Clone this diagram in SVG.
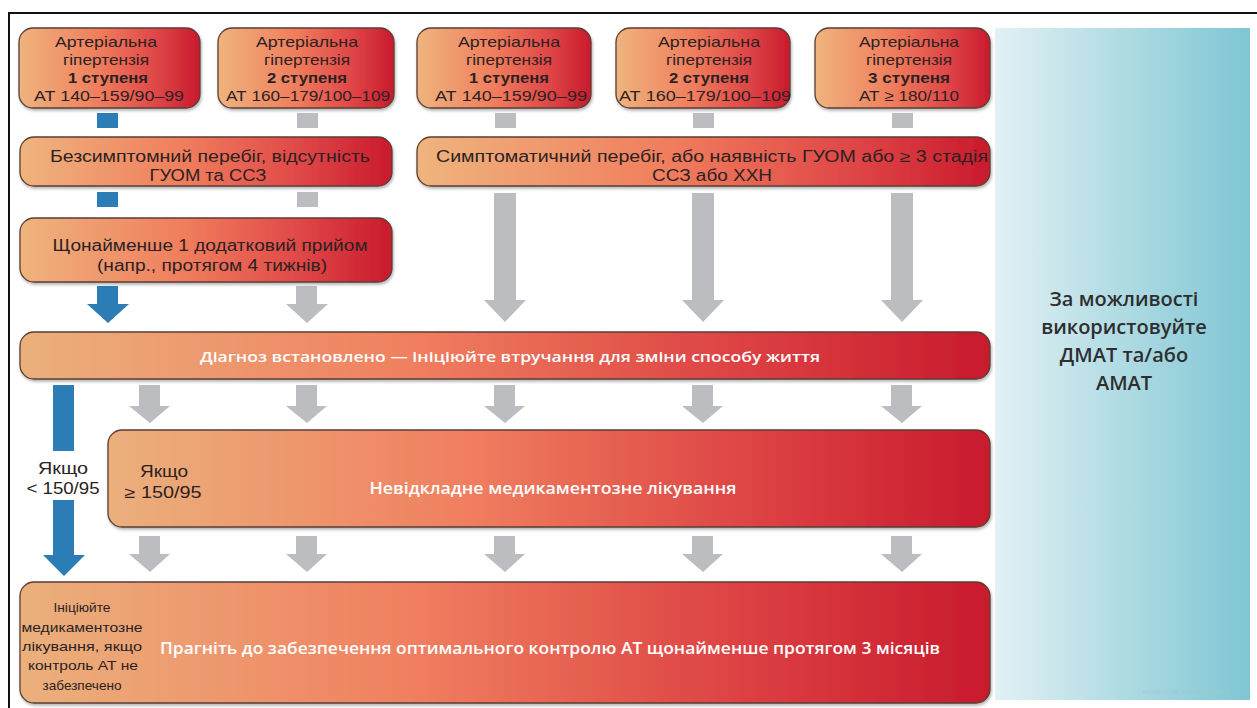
<svg xmlns="http://www.w3.org/2000/svg" width="1257" height="708" viewBox="0 0 1257 708">
<defs>
<linearGradient id="g" x1="0" y1="0" x2="1" y2="0">
<stop offset="0" stop-color="#efb47e"/>
<stop offset="0.45" stop-color="#f07c5c"/>
<stop offset="0.75" stop-color="#e04848"/>
<stop offset="1" stop-color="#c91a2d"/>
</linearGradient>
<linearGradient id="gw" x1="0" y1="0" x2="1" y2="0">
<stop offset="0" stop-color="#ebb07c"/>
<stop offset="0.4" stop-color="#f08060"/>
<stop offset="0.75" stop-color="#dc4042"/>
<stop offset="1" stop-color="#c81a2d"/>
</linearGradient>
<linearGradient id="side" x1="0" y1="0" x2="1" y2="0">
<stop offset="0" stop-color="#e2f1f5"/>
<stop offset="0.5" stop-color="#b0dbe3"/>
<stop offset="1" stop-color="#7fc6d3"/>
</linearGradient>
<filter id="sh" x="-5%" y="-10%" width="110%" height="130%">
<feDropShadow dx="1" dy="2" stdDeviation="1.5" flood-color="#000" flood-opacity="0.3"/>
</filter>
</defs>
<style>
.box{stroke:#5a3e34;stroke-width:1.3;filter:url(#sh)}
.t{font-family:"Liberation Sans",Arial,sans-serif;fill:#2a2222;text-anchor:middle}
.w{font-family:"Open Sans","Liberation Sans",sans-serif;fill:#fff;font-weight:600;text-anchor:middle}
.ga{fill:#bcbdc0}
.ba{fill:#2c7cb6}
</style>
<rect x="0" y="0" width="1257" height="708" fill="#fff"/>
<line x1="9" y1="13" x2="1257" y2="13" stroke="#111" stroke-width="2"/>
<line x1="9" y1="12" x2="9" y2="708" stroke="#111" stroke-width="2"/>

<g id="side-panel">
<rect x="995" y="28" width="255" height="672" fill="url(#side)"/>
<g font-family="'Open Sans','Liberation Sans',sans-serif" font-size="20" fill="#2e2e2e" text-anchor="middle" font-weight="600">
<text x="1124" y="306">За можливості</text>
<text x="1124" y="334">використовуйте</text>
<text x="1124" y="362">ДМАТ та/або</text>
<text x="1124" y="390">АМАТ</text>
</g>
<text x="1185" y="694" font-family="'Liberation Sans',sans-serif" font-size="6" fill="#9fc9d2" text-anchor="middle">JOURNAL OF HYPERTENSION</text>
</g>

<g id="connectors">
<rect class="ba" x="97" y="113" width="21" height="15"/>
<rect class="ga" x="297" y="113" width="21" height="15"/>
<rect class="ga" x="495" y="113" width="21" height="15"/>
<rect class="ga" x="693" y="113" width="21" height="15"/>
<rect class="ga" x="892" y="113" width="21" height="15"/>
<rect class="ba" x="97" y="192" width="21" height="15"/>
<rect class="ga" x="297" y="192" width="21" height="15"/>
<path class="ba" d="M97 286h21v18h11l-21 19l-21-19h10z"/>
<path class="ga" d="M296 286h21v18h11l-21 19l-21-19h10z"/>
<path class="ga" d="M494 193h22v107h10l-21 22l-21-22h10z"/>
<path class="ga" d="M692 193h22v107h10l-21 22l-21-22h10z"/>
<path class="ga" d="M891 193h22v107h10l-21 22l-21-22h10z"/>
<path class="ba" d="M53 385h21v66h-21z"/>
<path class="ba" d="M53 500h21v55h11l-21 21l-21-21h10z"/>
<path class="ga" d="M139 385h21v21h10l-20 17l-21-17h10z"/>
<path class="ga" d="M296 385h21v21h10l-20 17l-21-17h10z"/>
<path class="ga" d="M494 385h21v21h10l-20 17l-21-17h10z"/>
<path class="ga" d="M692 385h21v21h10l-20 17l-21-17h10z"/>
<path class="ga" d="M891 385h21v21h10l-20 17l-21-17h10z"/>
<path class="ga" d="M139 536h21v18h10l-20 18l-21-18h10z"/>
<path class="ga" d="M296 536h21v18h10l-20 18l-21-18h10z"/>
<path class="ga" d="M494 536h21v18h10l-20 18l-21-18h10z"/>
<path class="ga" d="M692 536h21v18h10l-20 18l-21-18h10z"/>
<path class="ga" d="M891 536h21v18h10l-20 18l-21-18h10z"/>
<text class="t" x="63" y="474" font-size="16" textLength="50" lengthAdjust="spacingAndGlyphs">Якщо</text>
<text class="t" x="63" y="494" font-size="16" textLength="73" lengthAdjust="spacingAndGlyphs">&lt; 150/95</text>
</g>

<g id="n1">
<rect class="box" x="19" y="28" width="181" height="80" rx="14" fill="url(#g)"/>
<text class="t" x="106" y="47" font-size="14.5" textLength="102" lengthAdjust="spacingAndGlyphs">Артеріальна</text>
<text class="t" x="106" y="65" font-size="14.5" textLength="86" lengthAdjust="spacingAndGlyphs">гіпертензія</text>
<text class="t" x="108" y="83" font-size="14.5" font-weight="bold" textLength="80" lengthAdjust="spacingAndGlyphs">1 ступеня</text>
<text class="t" x="109" y="101" font-size="15" textLength="150" lengthAdjust="spacingAndGlyphs">АТ 140–159/90–99</text>
</g>
<g id="n2">
<rect class="box" x="218" y="28" width="176" height="80" rx="14" fill="url(#g)"/>
<text class="t" x="307" y="47" font-size="14.5" textLength="102" lengthAdjust="spacingAndGlyphs">Артеріальна</text>
<text class="t" x="307" y="65" font-size="14.5" textLength="86" lengthAdjust="spacingAndGlyphs">гіпертензія</text>
<text class="t" x="307" y="83" font-size="14.5" font-weight="bold" textLength="80" lengthAdjust="spacingAndGlyphs">2 ступеня</text>
<text class="t" x="308" y="101" font-size="15" textLength="164" lengthAdjust="spacingAndGlyphs">АТ 160–179/100–109</text>
</g>
<g id="n3">
<rect class="box" x="417" y="28" width="174" height="80" rx="14" fill="url(#g)"/>
<text class="t" x="509" y="47" font-size="14.5" textLength="102" lengthAdjust="spacingAndGlyphs">Артеріальна</text>
<text class="t" x="509" y="65" font-size="14.5" textLength="86" lengthAdjust="spacingAndGlyphs">гіпертензія</text>
<text class="t" x="509" y="83" font-size="14.5" font-weight="bold" textLength="80" lengthAdjust="spacingAndGlyphs">1 ступеня</text>
<text class="t" x="511" y="101" font-size="15" textLength="152" lengthAdjust="spacingAndGlyphs">АТ 140–159/90–99</text>
</g>
<g id="n4">
<rect class="box" x="616" y="28" width="174" height="80" rx="14" fill="url(#g)"/>
<text class="t" x="709" y="47" font-size="14.5" textLength="102" lengthAdjust="spacingAndGlyphs">Артеріальна</text>
<text class="t" x="709" y="65" font-size="14.5" textLength="86" lengthAdjust="spacingAndGlyphs">гіпертензія</text>
<text class="t" x="709" y="83" font-size="14.5" font-weight="bold" textLength="80" lengthAdjust="spacingAndGlyphs">2 ступеня</text>
<text class="t" x="705" y="101" font-size="15" textLength="172" lengthAdjust="spacingAndGlyphs">АТ 160–179/100–109</text>
</g>
<g id="n5">
<rect class="box" x="815" y="28" width="175" height="80" rx="14" fill="url(#g)"/>
<text class="t" x="909" y="47" font-size="14.5" textLength="100" lengthAdjust="spacingAndGlyphs">Артеріальна</text>
<text class="t" x="909" y="65" font-size="14.5" textLength="86" lengthAdjust="spacingAndGlyphs">гіпертензія</text>
<text class="t" x="909" y="83" font-size="14.5" font-weight="bold" textLength="82" lengthAdjust="spacingAndGlyphs">3 ступеня</text>
<text class="t" x="909" y="101" font-size="15" textLength="100" lengthAdjust="spacingAndGlyphs">АТ ≥ 180/110</text>
</g>

<g id="n6">
<rect class="box" x="20" y="137" width="372" height="49" rx="14" fill="url(#g)"/>
<text class="t" x="210" y="162" font-size="16" textLength="320" lengthAdjust="spacingAndGlyphs">Безсимптомний перебіг, відсутність</text>
<text class="t" x="208" y="181" font-size="16" textLength="117" lengthAdjust="spacingAndGlyphs">ГУОМ та ССЗ</text>
</g>
<g id="n7">
<rect class="box" x="417" y="137" width="573" height="49" rx="14" fill="url(#g)"/>
<text class="t" x="712" y="162" font-size="16" textLength="552" lengthAdjust="spacingAndGlyphs">Симптоматичний перебіг, або наявність ГУОМ або ≥ 3 стадія</text>
<text class="t" x="712" y="181" font-size="16" textLength="120" lengthAdjust="spacingAndGlyphs">ССЗ або ХХН</text>
</g>
<g id="n8">
<rect class="box" x="20" y="218" width="372" height="64" rx="14" fill="url(#g)"/>
<text class="t" x="210" y="251" font-size="16" textLength="315" lengthAdjust="spacingAndGlyphs">Щонайменше 1 додатковий прийом</text>
<text class="t" x="212" y="271" font-size="16" textLength="230" lengthAdjust="spacingAndGlyphs">(напр., протягом 4 тижнів)</text>
</g>
<g id="n9">
<rect class="box" x="20" y="332" width="970" height="47" rx="14" fill="url(#gw)"/>
<text class="w" x="510" y="362" font-size="15" textLength="620" lengthAdjust="spacingAndGlyphs">Діагноз встановлено — ініціюйте втручання для зміни способу життя</text>
</g>
<g id="n10">
<rect class="box" x="108" y="430" width="882" height="97" rx="14" fill="url(#gw)"/>
<text class="t" x="164" y="477" font-size="16" textLength="48" lengthAdjust="spacingAndGlyphs">Якщо</text>
<text class="t" x="163" y="498" font-size="16" textLength="77" lengthAdjust="spacingAndGlyphs">≥ 150/95</text>
<text class="w" x="553" y="494" font-size="16" textLength="367" lengthAdjust="spacingAndGlyphs">Невідкладне медикаментозне лікування</text>
</g>
<g id="n11">
<rect class="box" x="20" y="582" width="970" height="121" rx="14" fill="url(#gw)"/>
<text class="t" x="82" y="612" font-size="13" textLength="57" lengthAdjust="spacingAndGlyphs">Ініціюйте</text>
<text class="t" x="82" y="632" font-size="13" textLength="121" lengthAdjust="spacingAndGlyphs">медикаментозне</text>
<text class="t" x="82" y="651" font-size="13" textLength="120" lengthAdjust="spacingAndGlyphs">лікування, якщо</text>
<text class="t" x="83" y="670" font-size="13" textLength="110" lengthAdjust="spacingAndGlyphs">контроль АТ не</text>
<text class="t" x="82" y="690" font-size="13" textLength="79" lengthAdjust="spacingAndGlyphs">забезпечено</text>
<text class="w" x="550" y="654" font-size="16.5" textLength="780" lengthAdjust="spacingAndGlyphs">Прагніть до забезпечення оптимального контролю АТ щонайменше протягом 3 місяців</text>
</g>
</svg>
